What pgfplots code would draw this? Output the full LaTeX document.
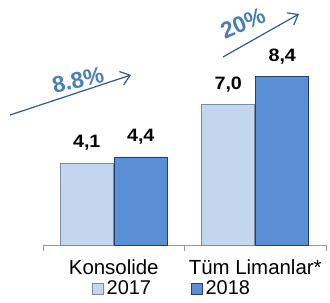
\documentclass[border=0pt]{standalone}
\usepackage{pgfplots}
\pgfplotsset{compat=1.18}
\usepackage{fontspec}
\setmainfont{Liberation Sans}
\usetikzlibrary{arrows.meta}
\definecolor{cA}{HTML}{C3D6EE}
\definecolor{cAe}{HTML}{7F8C9E}
\definecolor{cB}{HTML}{5A8FD6}
\definecolor{cBe}{HTML}{23406C}
\definecolor{pct}{HTML}{4A7EBB}
\definecolor{arr}{HTML}{2E5A98}
\begin{document}
\begin{tikzpicture}
\begin{axis}[
  at={(43bp,58bp)}, anchor=south west,
  scale only axis, width=283bp, height=245bp,
  xmin=-0.5, xmax=1.5, ymin=0, ymax=12.25,
  clip=false,
  hide y axis,
  axis x line*=bottom,
  x axis line style={draw=gray!80, line width=0.8pt},
  xtick={0,1}, xticklabels={Konsolide, Tüm Limanlar*},
  minor xtick={-0.5,0.5,1.5},
  major tick length=0pt, minor tick length=6bp,
  xtick align=outside,
  minor x tick style={draw=gray!80, line width=0.8pt},
  xticklabel style={font=\fontsize{20.5}{22}\selectfont, yshift=-11bp},
  ybar, bar width=53bp,
  nodes near coords,
  every node near coord/.append style={font=\bfseries\fontsize{18}{20}\selectfont, xscale=1.1, yshift=9bp, black},
  /pgf/number format/.cd, use comma, fixed, fixed zerofill, precision=1, assume math mode=true,
  /pgfplots/.cd,
  legend columns=2,
  legend style={at={(0.456,-0.138)}, anchor=north, draw=none, fill=none,
    font=\fontsize{20}{22}\selectfont, inner sep=0pt,
    /tikz/every even column/.append style={column sep=38bp},
    /tikz/every odd column/.append style={column sep=1bp}},
  legend image code/.code={\draw[#1, line width=0.6pt] (0bp,-5.5bp) rectangle (11bp,5.5bp);},
]
\addplot[fill=cA, draw=cAe, line width=1pt, bar shift=-27bp] coordinates {(0,4.1) (1,7.0)};
\addplot[fill=cB, draw=cBe, line width=1pt, bar shift=27bp] coordinates {(0,4.4) (1,8.4)};
\legend{2017,2018}
\draw[arr, line width=1.2pt, -{Straight Barb[length=9bp, width=14bp]}] (axis cs:-0.733,6.5) -- (axis cs:0.122,8.5);
\draw[arr, line width=1.2pt, -{Straight Barb[length=9bp, width=14bp]}] (axis cs:0.772,9.4) -- (axis cs:1.309,11.55);
\node[pct, font=\bfseries\fontsize{23}{24}\selectfont, rotate=13] at (axis cs:-0.253,8.25) {8.8\%};
\node[pct, font=\bfseries\fontsize{23}{24}\selectfont, rotate=23] at (axis cs:0.913,11.1) {20\%};
\end{axis}
\pgfresetboundingbox
\path (0,0) rectangle (330bp,303bp);
\end{tikzpicture}
\end{document}
